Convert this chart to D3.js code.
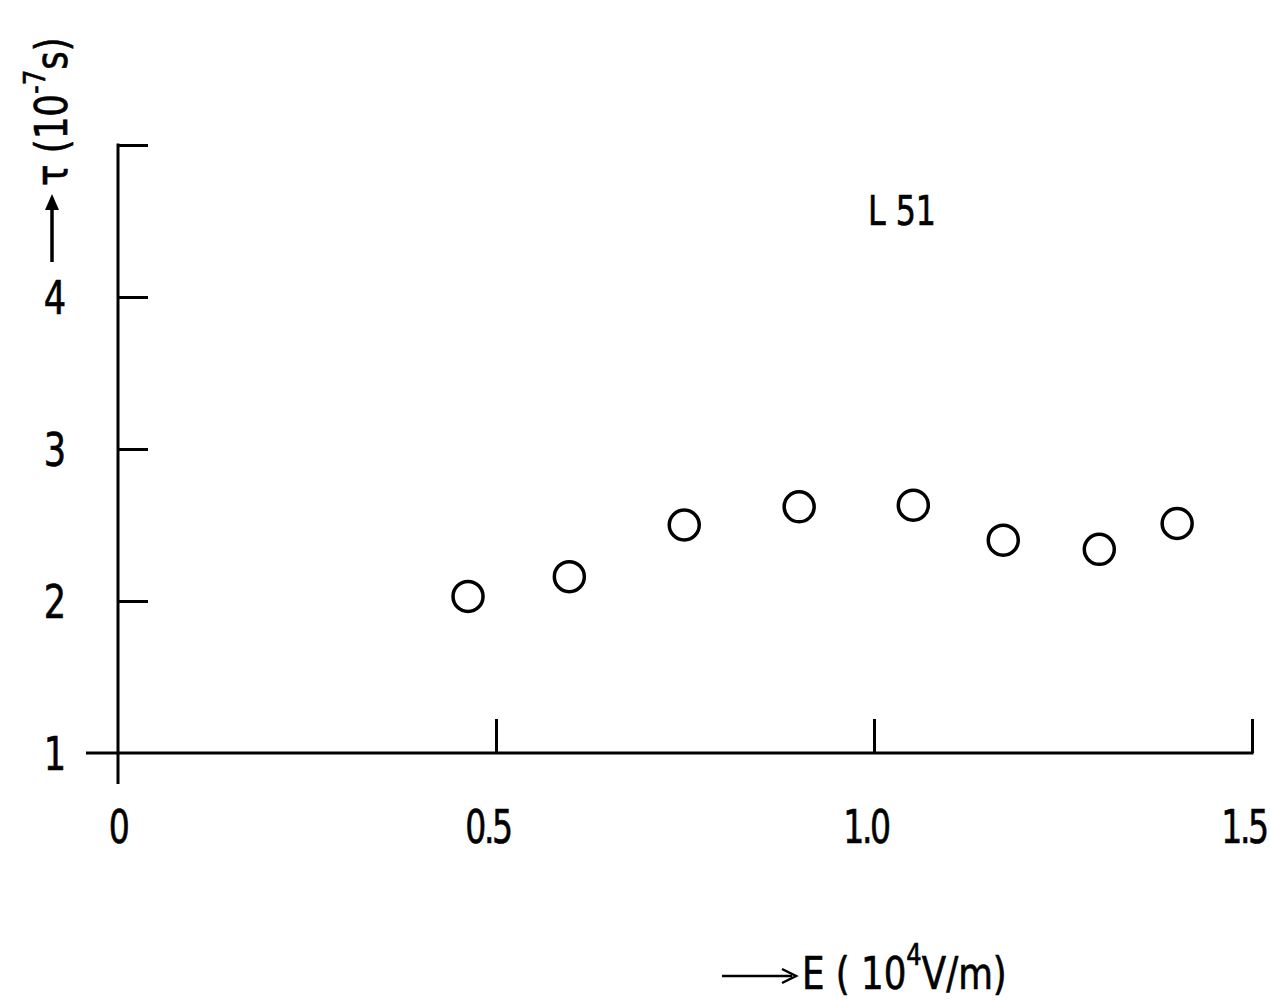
<!DOCTYPE html>
<html>
<head>
<meta charset="utf-8">
<script src="https://cdn.jsdelivr.net/npm/d3@7"></script>
<style>
  html, body { margin: 0; padding: 0; background: #fff; }
  svg text { font-family: "DejaVu Sans Condensed", "Liberation Sans Narrow", "DejaVu Sans", sans-serif; fill: #000; stroke: #000; stroke-width: 0.6px; }
</style>
</head>
<body>
<svg id="chart" width="1270" height="1000"></svg>
<script>
// Relaxation time tau versus field strength E, sample L51
const fieldE = [0.463, 0.597, 0.749, 0.901, 1.052, 1.171, 1.298, 1.401];
const tau = [2.03, 2.16, 2.50, 2.62, 2.63, 2.40, 2.34, 2.51];
const xTicks = [0, 0.5, 1.0, 1.5];
const xTickLabels = ["0", "0.5", "1.0", "1.5"];
const yTicks = [1, 2, 3, 4];
const yTickLabels = ["1", "2", "3", "4"];
const sampleName = "L 51";

const svg = d3.select("#chart");
const ink = "#000";

const x = d3.scaleLinear().domain([0, 1.5]).range([118, 1252]);
const y = d3.scaleLinear().domain([1, 5]).range([753, 145]);

// Horizontal axis with upward ticks
const xAxis = d3.axisTop(x).tickValues(xTicks.slice(1)).tickSize(34).tickSizeOuter(0).tickFormat("");
const gx = svg.append("g").attr("transform", `translate(0,${y(1)})`).call(xAxis);
gx.select(".domain").remove();
gx.selectAll(".tick line").attr("stroke", ink).attr("stroke-width", 3);
svg.append("line")
  .attr("x1", x(0) - 32).attr("x2", x(1.5) + 1.5)
  .attr("y1", y(1)).attr("y2", y(1))
  .attr("stroke", ink).attr("stroke-width", 3);

// Vertical axis with rightward ticks
const yAxis = d3.axisRight(y).tickValues(yTicks.slice(1).concat([5])).tickSize(30).tickSizeOuter(0).tickFormat("");
const gy = svg.append("g").attr("transform", `translate(${x(0)},0)`).call(yAxis);
gy.select(".domain").remove();
gy.selectAll(".tick line").attr("stroke", ink).attr("stroke-width", 3);
svg.append("line")
  .attr("x1", x(0)).attr("x2", x(0))
  .attr("y1", y(5) - 1.5).attr("y2", y(1) + 31)
  .attr("stroke", ink).attr("stroke-width", 3);

// Tick labels (narrow lettering)
svg.append("g").selectAll("text").data(xTicks).join("text")
  .attr("transform", d => `translate(${x(d) - (d === 0 ? 0 : 8)},843) scale(0.8,1)`)
  .attr("text-anchor", "middle")
  .attr("font-size", 46)
  .attr("letter-spacing", -3)
  .text((d, i) => xTickLabels[i]);

svg.append("g").selectAll("text").data(yTicks).join("text")
  .attr("transform", d => `translate(55,${y(d) + 17}) scale(0.85,1)`)
  .attr("text-anchor", "middle")
  .attr("font-size", 46)
  .text((d, i) => yTickLabels[i]);

// Data points: open circles
svg.append("g").selectAll("circle").data(fieldE).join("circle")
  .attr("cx", d => x(d))
  .attr("cy", (d, i) => y(tau[i]))
  .attr("r", 15)
  .attr("fill", "none")
  .attr("stroke", ink)
  .attr("stroke-width", 3.5);

// Sample label
svg.append("text")
  .attr("transform", "translate(868,225) scale(0.88,1)")
  .attr("font-size", 40)
  .text(sampleName);

// Horizontal axis title with arrow
const xTitle = svg.append("g");
xTitle.append("line").attr("x1", 722).attr("x2", 792).attr("y1", 976).attr("y2", 976)
  .attr("stroke", ink).attr("stroke-width", 2.5);
xTitle.append("path").attr("d", "M782,969 L796,976 L782,983").attr("fill", "none")
  .attr("stroke", ink).attr("stroke-width", 2.5);
const xt = xTitle.append("text").attr("transform", "translate(802,989) scale(0.9,1)").attr("font-size", 44);
xt.append("tspan").text("E ( 10");
xt.append("tspan").attr("font-size", 30).attr("dy", -24).text("4");
xt.append("tspan").attr("dy", 24).text("V/m)");

// Vertical axis title with arrow, reading upward
const yTitle = svg.append("g").attr("transform", "translate(52,262) rotate(-90)");
yTitle.append("line").attr("x1", 0).attr("x2", 64).attr("y1", 0).attr("y2", 0)
  .attr("stroke", ink).attr("stroke-width", 3.5);
yTitle.append("path").attr("d", "M52,-7 L68,0 L52,7 Z").attr("fill", ink);
const yt = yTitle.append("text").attr("transform", "translate(76,15) scale(0.9,1)").attr("font-size", 44);
yt.append("tspan").text("τ (10");
yt.append("tspan").attr("font-size", 30).attr("dy", -22).text("-7");
yt.append("tspan").attr("dy", 22).text("s)");
</script>
</body>
</html>
